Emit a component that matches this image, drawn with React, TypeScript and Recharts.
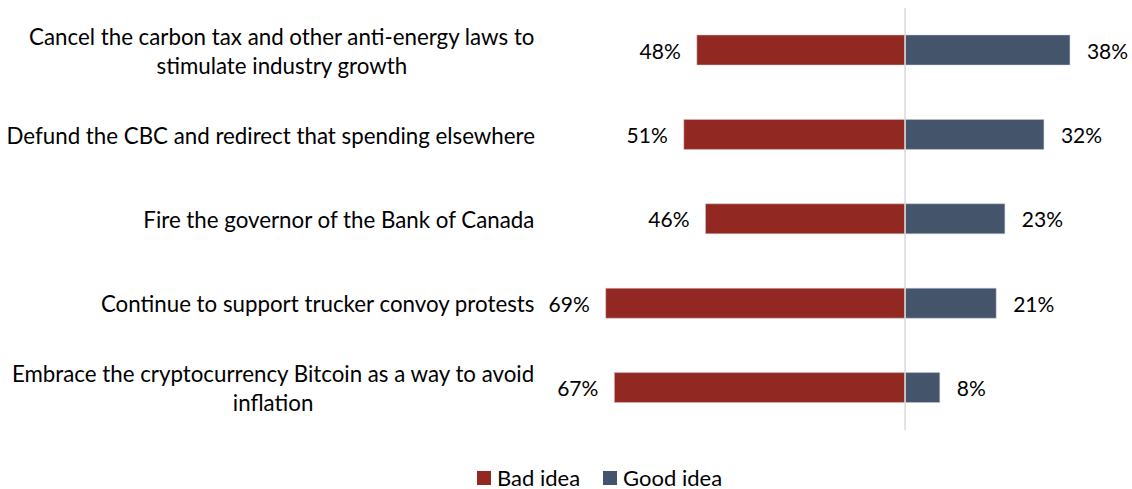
import React from 'react'
import { BarChart, Bar, XAxis, YAxis, ReferenceLine, Legend, LabelList } from 'recharts'

const categories = [
  'Cancel the carbon tax and other anti-energy laws to stimulate industry growth',
  'Defund the CBC and redirect that spending elsewhere',
  'Fire the governor of the Bank of Canada',
  'Continue to support trucker convoy protests',
  'Embrace the cryptocurrency Bitcoin as a way to avoid inflation',
]
const badIdea = [48, 51, 46, 69, 67]
const goodIdea = [38, 32, 23, 21, 8]

const BAD = '#922822'
const GOOD = '#44546A'
const FONT = 'Lato, "Open Sans", sans-serif'
const FS = 22.3
const VFS = 21

// bad idea goes to the left of zero
const data = categories.map((name, i) => ({
  name,
  bad: -badIdea[i],
  good: goodIdea[i],
}))

let ctx: CanvasRenderingContext2D | null = null
const measure = (s: string) => {
  if (!ctx) ctx = document.createElement('canvas').getContext('2d')
  if (!ctx) return s.length * 10
  ctx.font = `${FS}px ${FONT}`
  return ctx.measureText(s).width
}

const wrap = (text: string, maxChars = 52) => {
  const words = text.split(' ')
  const lines: string[] = []
  let cur = ''
  words.forEach(w => {
    const next = cur ? cur + ' ' + w : w
    if (next.length > maxChars && cur) {
      lines.push(cur)
      cur = w
    } else {
      cur = next
    }
  })
  if (cur) lines.push(cur)
  return lines
}

const CategoryTick = ({ y, payload }: any) => {
  const lines = wrap(payload.value)
  const right = 535
  const lineH = 29
  const widest = Math.max(...lines.map(measure))
  const cx = right - widest / 2
  const top = y - ((lines.length - 1) * lineH) / 2
  return (
    <text
      x={cx}
      y={top}
      textAnchor="middle"
      dominantBaseline="central"
      fontFamily={FONT}
      fontSize={FS}
      fill="#000"
    >
      {lines.map((l, i) => (
        <tspan key={i} x={cx} y={top + i * lineH} dominantBaseline="central">
          {l}
        </tspan>
      ))}
    </text>
  )
}

const BadLabel = ({ x, y, width, height, value }: any) => {
  const left = Math.min(x, x + width)
  return (
    <text x={left - 16} y={y + height / 2} textAnchor="end" dominantBaseline="central"
      fontFamily={FONT} fontSize={VFS} fill="#000">
      {Math.abs(value)}%
    </text>
  )
}

const GoodLabel = ({ x, y, width, height, value }: any) => {
  const right = Math.max(x, x + width)
  return (
    <text x={right + 17} y={y + height / 2} textAnchor="start" dominantBaseline="central"
      fontFamily={FONT} fontSize={VFS} fill="#000">
      {value}%
    </text>
  )
}

const LegendContent = () => (
  <div style={{ display: 'flex', alignItems: 'center', fontFamily: FONT, fontSize: 22, lineHeight: 1, color: '#000' }}>
    <span style={{ width: 14, height: 14, background: BAD, display: 'inline-block', marginRight: 6 }} />
    <span style={{ marginRight: 23 }}>Bad idea</span>
    <span style={{ width: 14, height: 14, background: GOOD, display: 'inline-block', marginRight: 6 }} />
    <span>Good idea</span>
  </div>
)

export default function App() {
  return (
    <div style={{ position: 'absolute', left: 0, top: 0, background: '#fff' }}>
      <BarChart
        width={1132}
        height={489}
        data={data}
        layout="vertical"
        stackOffset="sign"
        barSize={30}
        margin={{ top: 8, right: 10, bottom: 37, left: 0 }}
      >
        <XAxis type="number" domain={[-80, 50]} hide />
        <YAxis
          type="category"
          dataKey="name"
          width={558}
          axisLine={false}
          tickLine={false}
          tick={<CategoryTick />}
          interval={0}
        />
        <Bar dataKey="bad" name="Bad idea" stackId="a" fill={BAD} stroke="#d8c8c8" strokeWidth={0.5} isAnimationActive={false}>
          <LabelList dataKey="bad" content={<BadLabel />} />
        </Bar>
        <Bar dataKey="good" name="Good idea" stackId="a" fill={GOOD} stroke="#c8ccd4" strokeWidth={0.5} isAnimationActive={false}>
          <LabelList dataKey="good" content={<GoodLabel />} />
        </Bar>
        <ReferenceLine x={0} stroke="#d9d9d9" strokeWidth={1.5} />
        <Legend
          content={<LegendContent />}
          wrapperStyle={{ position: 'absolute', left: 477, top: 467, width: 300, height: 22 }}
        />
      </BarChart>
    </div>
  )
}
